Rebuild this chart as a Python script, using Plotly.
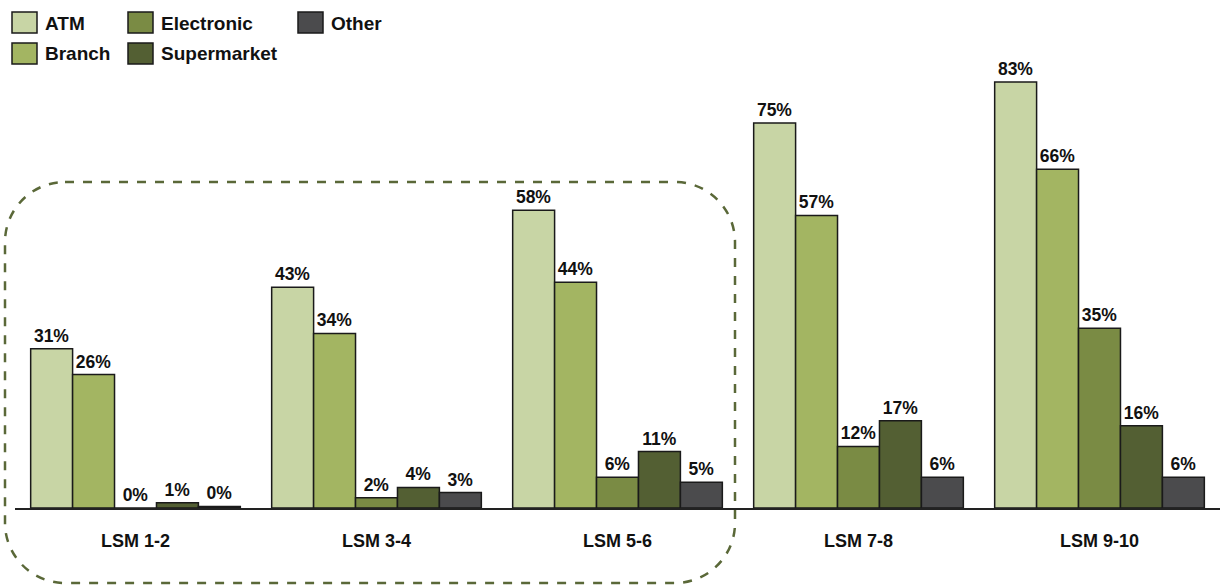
import plotly.graph_objects as go

categories = ["LSM 1-2", "LSM 3-4", "LSM 5-6", "LSM 7-8", "LSM 9-10"]
series_names = ["ATM", "Branch", "Electronic", "Supermarket", "Other"]
atm = [31, 43, 58, 75, 83]
branch = [26, 34, 44, 57, 66]
electronic = [0, 2, 6, 12, 35]
supermarket = [1, 4, 11, 17, 16]
other = [0.3, 3, 5, 6, 6]
other_labels = [0, 3, 5, 6, 6]
colors = ["#C8D5A5", "#A3B562", "#7A8B44", "#535F33", "#4B4B4D"]

values = [atm, branch, electronic, supermarket, other]
labels = [atm, branch, electronic, supermarket, other_labels]

W, H = 1223, 586
L, R, T, B = 15, 3, 46, 78
PW = W - L - R
PH = H - T - B
FONT = "Liberation Sans, Arial, sans-serif"

def px(x):
    return (x - L) / PW

def py(y):
    return (H - B - y) / PH

fig = go.Figure()
for name, vals, labs, col in zip(series_names, values, labels, colors):
    fig.add_trace(go.Bar(
        name=name, x=categories, y=vals,
        text=[f"{v:g}%" for v in labs], textposition="outside",
        textfont=dict(family=FONT, size=17.5, color="#111111", weight="bold"),
        marker=dict(color=col, line=dict(color="#1a1a1a", width=1.5)),
        cliponaxis=False, showlegend=False,
    ))

shapes = []
annotations = []
# manual legend (column-major like the original)
legend_pos = {
    "ATM": (12, 12), "Branch": (12, 43),
    "Electronic": (128, 12), "Supermarket": (128, 43),
    "Other": (298, 12),
}
for name, col in zip(series_names, colors):
    x0, y0 = legend_pos[name]
    shapes.append(dict(type="rect", xref="paper", yref="paper",
                       x0=px(x0), x1=px(x0 + 25), y0=py(y0), y1=py(y0 + 21),
                       fillcolor=col, line=dict(color="#1a1a1a", width=1.5)))
    annotations.append(dict(xref="paper", yref="paper", x=px(x0 + 31), y=py(y0 + 11),
                            text=name, showarrow=False, xanchor="left", yanchor="middle",
                            font=dict(family=FONT, size=19, color="#111111", weight="bold")))

# dashed rounded rectangle
x0, x1, y0, y1, r = 5, 735, 182, 583, 60
k = 0.55 * r
pts = [
    f"M{px(x0 + r)},{py(y0)}",
    f"L{px(x1 - r)},{py(y0)}",
    f"C{px(x1 - r + k)},{py(y0)} {px(x1)},{py(y0 + r - k)} {px(x1)},{py(y0 + r)}",
    f"L{px(x1)},{py(y1 - r)}",
    f"C{px(x1)},{py(y1 - r + k)} {px(x1 - r + k)},{py(y1)} {px(x1 - r)},{py(y1)}",
    f"L{px(x0 + r)},{py(y1)}",
    f"C{px(x0 + r - k)},{py(y1)} {px(x0)},{py(y1 - r + k)} {px(x0)},{py(y1 - r)}",
    f"L{px(x0)},{py(y0 + r)}",
    f"C{px(x0)},{py(y0 + r - k)} {px(x0 + r - k)},{py(y0)} {px(x0 + r)},{py(y0)}",
]
shapes.append(dict(type="path", xref="paper", yref="paper", path=" ".join(pts),
                   line=dict(color="#5A6838", width=2.5, dash="dash"),
                   fillcolor="rgba(0,0,0,0)", layer="above"))

fig.update_layout(
    width=W, height=H,
    margin=dict(l=L, r=R, t=T, b=B),
    paper_bgcolor="white", plot_bgcolor="white",
    barmode="group", bargap=0.13, bargroupgap=0,
    shapes=shapes, annotations=annotations,
    showlegend=False,
    font=dict(family=FONT),
)
fig.update_xaxes(showline=True, linecolor="#222222", linewidth=1.5, ticks="",
                 ticklabelstandoff=16,
                 tickfont=dict(family=FONT, size=18, color="#111111", weight="bold"),
                 showgrid=False)
fig.update_yaxes(range=[0, 90], visible=False, showgrid=False)

fig.write_html("out.html", config={"displayModeBar": False},
               post_script="document.body.style.margin='0';")
